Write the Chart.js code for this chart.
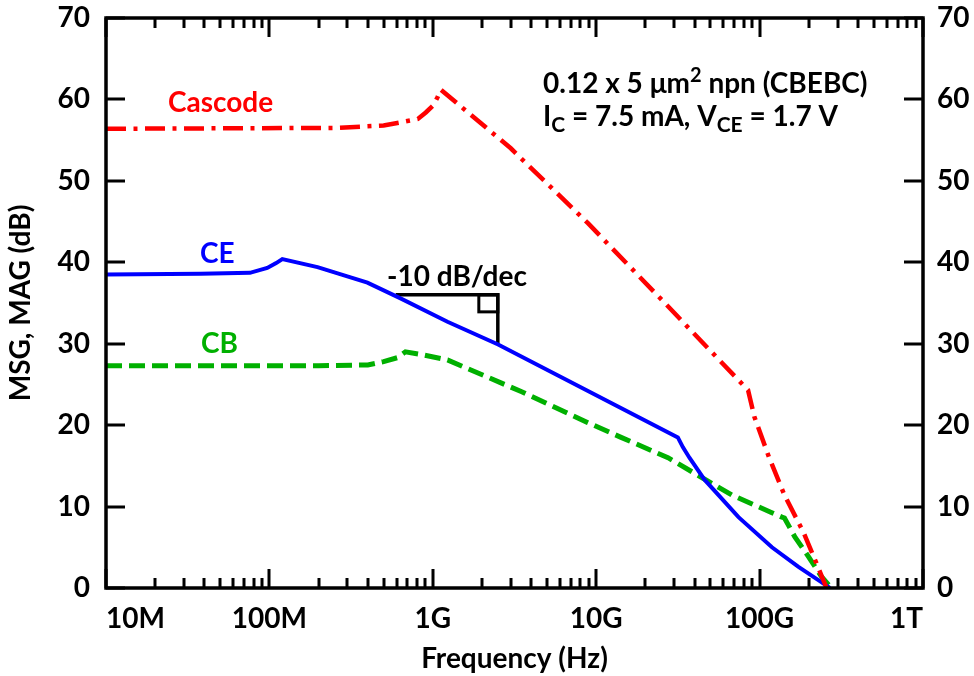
<!DOCTYPE html>
<html>
<head>
<meta charset="utf-8">
<script src="https://cdn.jsdelivr.net/npm/chart.js@4.4.1/dist/chart.umd.min.js"></script>
<style>
  html, body { margin: 0; padding: 0; background: #fff; }
  #wrap { width: 974px; height: 676px; }
</style>
</head>
<body>
<div id="wrap"><canvas id="chart"></canvas></div>
<script>
// axis ticks
var xMajor = [1e7, 1e8, 1e9, 1e10, 1e11, 1e12];
var xMajorLabels = ["10M", "100M", "1G", "10G", "100G", "1T"];
var yMajor = [0, 10, 20, 30, 40, 50, 60, 70];

// Cascode (MSG/MAG, dB) vs frequency (Hz)
var cascodeF = [1e7, 2.5e8, 5.0e8, 6.4e8, 8.1e8, 9.06e8, 1.01e9, 1.07e9, 1.12e9, 3.0e9, 8.9e9, 2.6e10, 8.5e10, 9.3e10, 1.14e11, 1.42e11, 1.86e11, 2.19e11, 2.57e11];
var cascodeG = [56.4, 56.5, 56.8, 57.2, 57.6, 58.4, 59.3, 60.3, 61.2, 54.0, 44.8, 35.1, 24.3, 21.0, 16.1, 11.4, 6.8, 3.4, 0];

// CE
var ceF = [1e7, 3.8e7, 7.6e7, 9.7e7, 1.1e8, 1.2e8, 1.97e8, 3.98e8, 6.3e8, 1.23e9, 2.51e9, 3.16e10, 3.39e10, 3.72e10, 4.6e10, 7.43e10, 1.19e11, 1.73e11, 2.4e11, 2.69e11];
var ceG = [38.5, 38.6, 38.7, 39.3, 39.9, 40.4, 39.4, 37.5, 35.6, 32.7, 29.9, 18.5, 17.3, 16.0, 13.3, 8.7, 5.0, 2.6, 0.7, 0];

// CB
var cbF = [1e7, 2e8, 4e8, 5e8, 6.1e8, 6.8e8, 8.4e8, 1.23e9, 3.5e9, 8.9e9, 1.42e10, 2.75e10, 4.4e10, 6.8e10, 1.17e11, 1.37e11, 1.42e11, 1.64e11, 2.0e11, 2.4e11, 2.75e11];
var cbG = [27.3, 27.3, 27.4, 27.8, 28.3, 29.0, 28.7, 28.0, 24.1, 20.3, 18.5, 16.0, 13.6, 11.4, 9.3, 8.7, 8.6, 6.3, 3.8, 1.35, 0];

// -10 dB/dec slope triangle
var slopeF = [5.93e8, 2.5e9, 2.5e9];
var slopeG = [36.0, 36.0, 29.85];

var INK = "#000000", RED = "#ff0000", BLUE = "#0000ff", GREEN = "#00b000";
var FONT = "Lato, 'Open Sans', sans-serif";

function pts(f, g) { return f.map(function (v, i) { return { x: v, y: g[i] }; }); }

// text labels: [segments], x, baseline y
var notes = [
  { x: 168, y: 112, color: RED, segs: [["Cascode"]] },
  { x: 200, y: 263, color: BLUE, segs: [["CE"]] },
  { x: 201, y: 353, color: GREEN, segs: [["CB"]] },
  { x: 387, y: 286, color: INK, segs: [["-10 dB/dec"]] },
  { x: 543, y: 93, color: INK, segs: [["0.12 x 5 \u03bcm"], ["2", 0.72, -11], [" npn (CBEBC)"]] },
  { x: 543, y: 126, color: INK, segs: [["I"], ["C", 0.75, 6], [" = 7.5 mA, V"], ["CE", 0.75, 6], [" = 1.7 V"]] }
];

var framePlugin = {
  id: "frame",
  afterDatasetsDraw: function (chart) {
    var a = chart.chartArea, ctx = chart.ctx, xs = chart.scales.x, ys = chart.scales.y;
    ctx.save();
    ctx.strokeStyle = INK;
    ctx.lineWidth = 3.5;
    ctx.strokeRect(a.left, a.top, a.right - a.left, a.bottom - a.top);
    ctx.lineWidth = 3;
    ctx.beginPath();
    // x ticks, inward, bottom and top
    for (var d = 0; d < xMajor.length - 1; d++) {
      for (var k = 1; k <= 10; k++) {
        var px = Math.round(xs.getPixelForValue(k * xMajor[d]));
        var len = (k === 1 || k === 10) ? 19 : 10;
        ctx.moveTo(px, a.bottom); ctx.lineTo(px, a.bottom - len);
        ctx.moveTo(px, a.top); ctx.lineTo(px, a.top + len);
      }
    }
    // y ticks, inward, left and right
    yMajor.forEach(function (v) {
      var py = Math.round(ys.getPixelForValue(v));
      ctx.moveTo(a.left, py); ctx.lineTo(a.left + 19, py);
      ctx.moveTo(a.right, py); ctx.lineTo(a.right - 19, py);
    });
    ctx.stroke();
    // right-angle mark on the slope triangle
    var cx = xs.getPixelForValue(slopeF[1]), cy = ys.getPixelForValue(slopeG[1]);
    ctx.lineWidth = 3;
    ctx.strokeRect(cx - 19, cy, 19, 17);
    // text notes
    ctx.textBaseline = "alphabetic";
    ctx.textAlign = "left";
    notes.forEach(function (n) {
      var x = n.x;
      ctx.fillStyle = n.color;
      n.segs.forEach(function (s) {
        var scale = s[1] || 1, dy = s[2] || 0;
        ctx.font = "bold " + Math.round(28 * scale) + "px " + FONT;
        ctx.fillText(s[0], x, n.y + dy);
        x += ctx.measureText(s[0]).width;
      });
    });
    ctx.restore();
  }
};

function fitY(w) {
  return function (s) { s.width = w; s.paddingTop = 0; s.paddingBottom = 0; };
}

new Chart(document.getElementById("chart"), {
  type: "line",
  data: {
    datasets: [
      { data: pts(cascodeF, cascodeG), borderColor: RED, borderWidth: 4.5, borderDash: [20, 7.5, 4, 7.5] },
      { data: pts(ceF, ceG), borderColor: BLUE, borderWidth: 4 },
      { data: pts(cbF, cbG), borderColor: GREEN, borderWidth: 5, borderDash: [16, 7] },
      { data: pts(slopeF, slopeG), borderColor: INK, borderWidth: 3.5 }
    ]
  },
  options: {
    responsive: true, maintainAspectRatio: false, animation: false,
    layout: { padding: { top: 18, left: 0, right: 0, bottom: 0 } },
    elements: { point: { radius: 0 }, line: { tension: 0 } },
    plugins: { legend: { display: false }, tooltip: { enabled: false } },
    scales: {
      x: {
        type: "logarithmic", position: "bottom", min: 1e7, max: 1e12,
        afterBuildTicks: function (s) { s.ticks = xMajor.map(function (v) { return { value: v }; }); },
        afterFit: function (s) { s.height = 88; s.paddingLeft = 0; s.paddingRight = 0; },
        grid: { display: false, drawTicks: false },
        border: { display: false },
        ticks: {
          align: "inner", maxRotation: 0, autoSkip: false, padding: 14, color: INK,
          font: { family: FONT, size: 28, weight: "bold" },
          callback: function (v) { var i = xMajor.indexOf(v); return i < 0 ? "" : xMajorLabels[i]; }
        },
        title: { display: true, text: "Frequency (Hz)", color: INK, padding: { top: 4, bottom: 0 },
          font: { family: FONT, size: 28, weight: "bold" } }
      },
      y: {
        position: "left", min: 0, max: 70,
        afterBuildTicks: function (s) { s.ticks = yMajor.map(function (v) { return { value: v }; }); },
        afterFit: fitY(106),
        grid: { display: false, drawTicks: false },
        border: { display: false },
        ticks: { padding: 16, color: INK, font: { family: FONT, size: 28, weight: "bold" } },
        title: { display: true, text: "MSG, MAG (dB)", color: INK, padding: { top: 4, bottom: 0 },
          font: { family: FONT, size: 28, weight: "bold" } }
      },
      y2: {
        position: "right", min: 0, max: 70,
        afterBuildTicks: function (s) { s.ticks = yMajor.map(function (v) { return { value: v }; }); },
        afterFit: fitY(51),
        grid: { display: false, drawTicks: false },
        border: { display: false },
        ticks: { padding: 14, color: INK, font: { family: FONT, size: 28, weight: "bold" } }
      }
    }
  },
  plugins: [framePlugin]
});
</script>
</body>
</html>
